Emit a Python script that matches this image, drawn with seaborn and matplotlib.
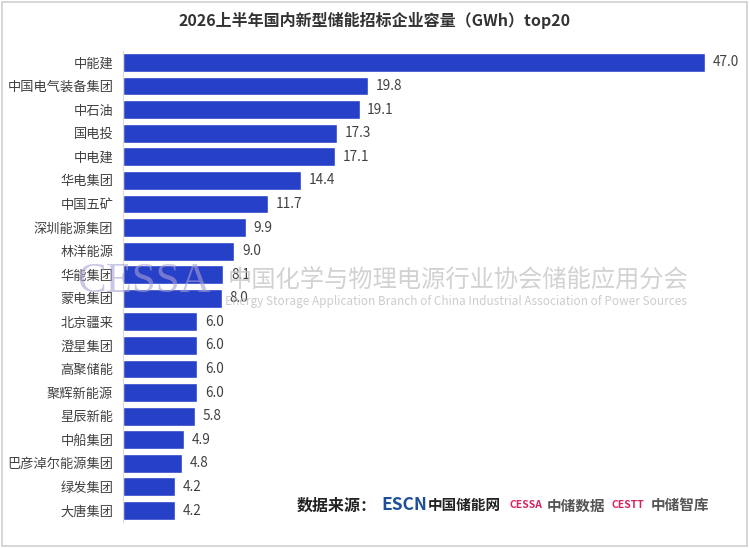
import matplotlib
matplotlib.use("Agg")
import matplotlib.pyplot as plt
import seaborn as sns
from matplotlib.patches import Rectangle

sns.set_style("white")
plt.rcParams['font.family'] = ['Noto Sans CJK SC', 'DejaVu Sans']

# Data
companies = ['中能建', '中国电气装备集团', '中石油', '国电投', '中电建', '华电集团', '中国五矿',
             '深圳能源集团', '林洋能源', '华能集团', '蒙电集团', '北京疆来', '澄星集团', '高聚储能',
             '聚辉新能源', '星辰新能', '中船集团', '巴彦淖尔能源集团', '绿发集团', '大唐集团']
capacity = [47.0, 19.8, 19.1, 17.3, 17.1, 14.4, 11.7, 9.9, 9.0, 8.1,
            8.0, 6.0, 6.0, 6.0, 6.0, 5.8, 4.9, 4.8, 4.2, 4.2]

title = '2026上半年国内新型储能招标企业容量（GWh）top20'
bar_color = '#2740c8'

fig = plt.figure(figsize=(7.5, 5.48), dpi=100)
ax = fig.add_axes([0.164, 0.0469, 0.8227, 0.8606])

sns.barplot(x=capacity, y=companies, orient='h', color=bar_color, width=0.8,
            saturation=1, ax=ax)

ax.set_xlim(0, 49.83)
ax.set_xticks([])
ax.set_xlabel('')
ax.set_ylabel('')
for s in ['top', 'right', 'bottom']:
    ax.spines[s].set_visible(False)
ax.spines['left'].set_color('#d9d9d9')
ax.spines['left'].set_linewidth(0.8)
ax.tick_params(axis='y', length=0, pad=7, labelsize=9.5, labelcolor='#404040')

ax.bar_label(ax.containers[0], fmt='%.1f', padding=5.5, fontsize=9.8, color='#404040')

# title
fig.text(0.5, 0.963, title, ha='center', va='center', fontsize=11.5, fontweight='bold',
         color='#333333')

# watermark
fig.text(0.103, 0.485, 'CESSA', ha='left', va='center', fontsize=31, color='#a8a0d4',
         alpha=0.6, family='Liberation Serif')
fig.text(0.304, 0.489, '中国化学与物理电源行业协会储能应用分会', ha='left', va='center',
         fontsize=17.5, color='#c4c4c4', alpha=0.75)
fig.text(0.916, 0.449, 'Energy Storage Application Branch of China Industrial Association of Power Sources',
         ha='right', va='center', fontsize=8.5, color='#c4c4c4', alpha=0.85)

# source
y_src = 0.078
fig.text(0.395, y_src, '数据来源：', ha='left', va='center', fontsize=11.5, fontweight='bold',
         color='#222222')
fig.text(0.508, y_src, 'ESCN', ha='left', va='center', fontsize=12.5, fontweight='bold',
         color='#1d4e9a')
fig.text(0.571, y_src, '中国储能网', ha='left', va='center', fontsize=10.5, fontweight='bold',
         color='#222222')
fig.text(0.679, y_src, 'CESSA', ha='left', va='center', fontsize=7.5, fontweight='bold',
         color='#d6245c')
fig.text(0.729, y_src, '中储数据', ha='left', va='center', fontsize=10.5, fontweight='bold',
         color='#555555')
fig.text(0.816, y_src, 'CESTT', ha='left', va='center', fontsize=7.5, fontweight='bold',
         color='#d6245c')
fig.text(0.868, y_src, '中储智库', ha='left', va='center', fontsize=10.5, fontweight='bold',
         color='#555555')

# border
fig.patches.append(Rectangle((0.002, 0.004), 0.994, 0.992, transform=fig.transFigure,
                             fill=False, edgecolor='#cfcfcf', linewidth=1.2))

fig.savefig('out.png', dpi=100)
